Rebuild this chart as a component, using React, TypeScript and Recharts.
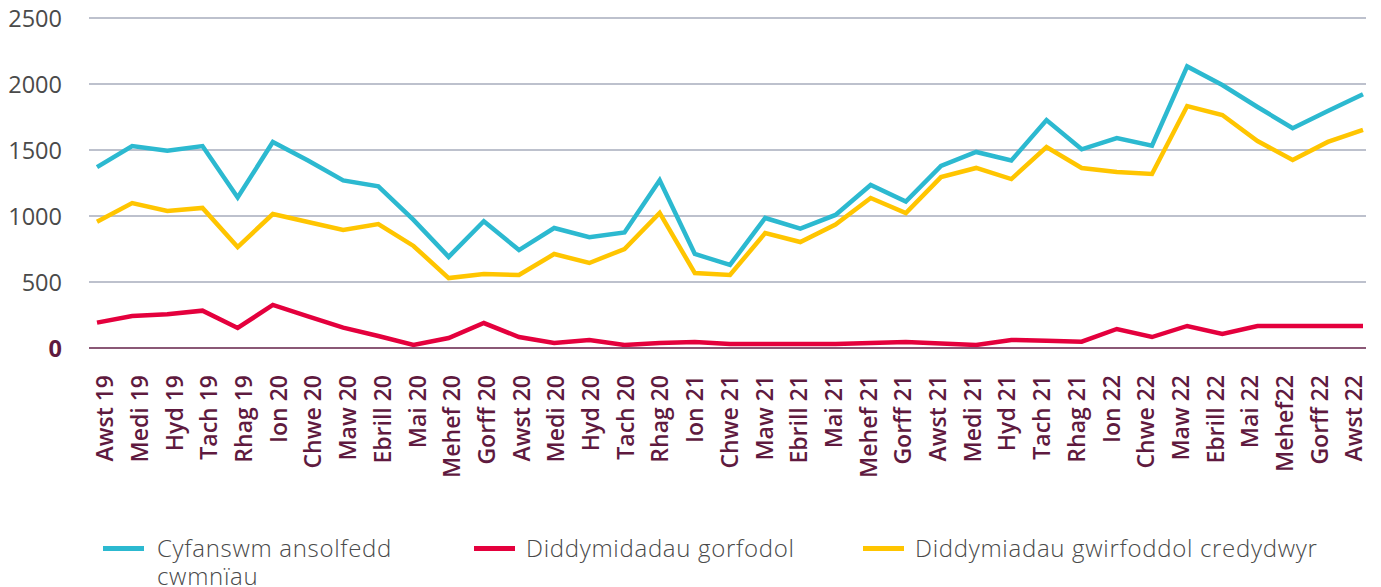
import React from 'react';
import { LineChart, Line, XAxis, YAxis, CartesianGrid } from 'recharts';

const months = [
  'Awst 19', 'Medi 19', 'Hyd 19', 'Tach 19', 'Rhag 19', 'Ion 20', 'Chwe 20', 'Maw 20',
  'Ebrill 20', 'Mai 20', 'Mehef 20', 'Gorff 20', 'Awst 20', 'Medi 20', 'Hyd 20', 'Tach 20',
  'Rhag 20', 'Ion 21', 'Chwe 21', 'Maw 21', 'Ebrill 21', 'Mai 21', 'Mehef 21', 'Gorff 21',
  'Awst 21', 'Medi 21', 'Hyd 21', 'Tach 21', 'Rhag 21', 'Ion 22', 'Chwe 22', 'Maw 22',
  'Ebrill 22', 'Mai 22', 'Mehef22', 'Gorff 22', 'Awst 22',
];

const totalInsolvencies = [
  1370, 1530, 1495, 1530, 1140, 1560, 1420, 1270, 1225, 970, 690, 960, 742, 909, 840, 875,
  1270, 712, 629, 985, 905, 1008, 1235, 1110, 1380, 1485, 1420, 1727, 1505, 1590, 1532, 2133,
  1992, 1826, 1665, 1795, 1922,
];

const compulsoryLiquidations = [
  192, 242, 255, 283, 152, 326, 240, 154, 91, 23, 76, 189, 83, 38, 61, 23,
  38, 45, 30, 30, 30, 30, 38, 45, 35, 23, 61, 55, 48, 144, 83, 167,
  106, 167, 167, 167, 167,
];

const creditorsVoluntary = [
  957, 1098, 1038, 1061, 765, 1015, 955, 894, 939, 773, 530, 561, 553, 712, 644, 750,
  1023, 568, 553, 871, 803, 935, 1136, 1023, 1295, 1364, 1280, 1523, 1364, 1333, 1318, 1833,
  1765, 1568, 1424, 1561, 1652,
];

const yTicks = [0, 500, 1000, 1500, 2000, 2500];

const series = [
  { key: 'total', name: 'Cyfanswm ansolfedd cwmnïau', color: '#2cb9d0' },
  { key: 'compulsory', name: 'Diddymidadau gorfodol', color: '#e4003d' },
  { key: 'voluntary', name: 'Diddymiadau gwirfoddol credydwyr', color: '#ffc500' },
];

const data = months.map((m, i) => ({
  month: m,
  total: totalInsolvencies[i],
  compulsory: compulsoryLiquidations[i],
  voluntary: creditorsVoluntary[i],
}));

const FONT = '"Open Sans", sans-serif';
const MAROON = '#5f1a3f';

// month labels sit a little right of their point and drift left along the axis
const MonthTick = (props: any) => {
  const { x, y, payload, index } = props;
  const shift = 16.3 - 0.47 * index;
  return (
    <g transform={`translate(${x},${y})`}>
      <text
        transform="rotate(-90)"
        x={-19}
        y={shift}
        textAnchor="end"
        fill={MAROON}
        fontFamily={FONT}
        fontWeight={600}
        fontSize={23}
      >
        {payload.value}
      </text>
    </g>
  );
};

const ValueTick = (props: any) => {
  const { x, y, payload } = props;
  const zero = payload.value === 0;
  return (
    <text
      x={x}
      y={y}
      dy="0.4em"
      textAnchor="end"
      fill={zero ? MAROON : '#4a4a4a'}
      fontFamily={FONT}
      fontWeight={zero ? 700 : 400}
      fontSize={23.5}
    >
      {payload.value}
    </text>
  );
};

const legendPos = [
  { swatch: 95, text: 149, width: 245 },
  { swatch: 466, text: 518, width: 320 },
  { swatch: 855, text: 907, width: 460 },
];

export default function App() {
  return (
    <div style={{ position: 'relative', width: 1365, height: 579, fontFamily: FONT }}>
      <LineChart
        width={1365}
        height={579}
        data={data}
        margin={{ top: 10, right: 7, left: 0, bottom: 109 }}
        style={{ overflow: 'visible' }}
      >
        <CartesianGrid vertical={false} stroke="#a7acbd" strokeWidth={1.3} />
        <XAxis
          dataKey="month"
          interval={0}
          height={130}
          padding={{ left: 8, right: 3 }}
          tickLine={false}
          axisLine={{ stroke: '#7a3558', strokeWidth: 1.5 }}
          tick={<MonthTick />}
        />
        <YAxis
          width={81}
          domain={[0, 2500]}
          ticks={yTicks}
          tickLine={false}
          axisLine={false}
          tickMargin={21}
          tick={<ValueTick />}
        />
        {series.map((s) => (
          <Line
            key={s.key}
            type="linear"
            dataKey={s.key}
            name={s.name}
            stroke={s.color}
            strokeWidth={4.5}
            dot={false}
            isAnimationActive={false}
          />
        ))}
      </LineChart>
      <div style={{ position: 'absolute', left: 0, top: 526, width: 1365, height: 58 }}>
        {series.map((s, i) => (
          <div key={s.key}>
            <div
              style={{
                position: 'absolute',
                left: legendPos[i].swatch,
                top: 12,
                width: 41,
                height: 5,
                background: s.color,
              }}
            />
            <div
              style={{
                position: 'absolute',
                left: legendPos[i].text,
                top: 0,
                width: legendPos[i].width,
                fontSize: 24,
                fontWeight: 300,
                letterSpacing: 0.7,
                lineHeight: '28px',
                color: '#4a4a4a',
              }}
            >
              {s.name}
            </div>
          </div>
        ))}
      </div>
    </div>
  );
}
